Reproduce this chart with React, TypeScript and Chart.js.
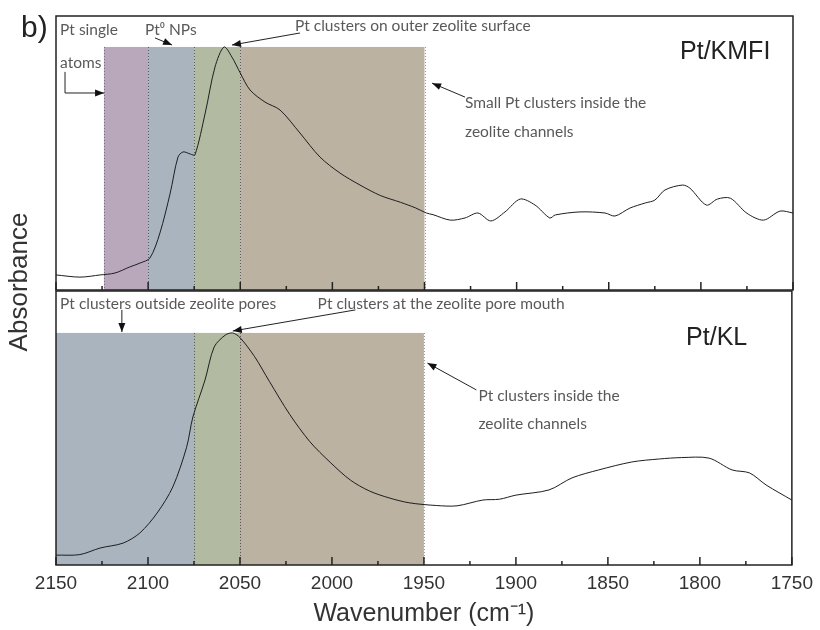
import React, { useEffect, useRef } from "react";
import { Chart, registerables } from "chart.js";

Chart.register(...registerables);

// ---------- data (wavenumber in cm-1, absorbance in arbitrary units 0-100) ----------
const topWavenumber = [
  2150, 2137, 2126, 2118, 2110, 2104.5, 2099, 2093.6, 2088, 2083.8, 2081, 2077, 2074.6, 2069, 2063.7,
  2058.8, 2054.5, 2050, 2044.7, 2036.6, 2028.4, 2017.6, 2006.7, 1995.9, 1985, 1974, 1963, 1955, 1949,
  1945.4, 1936, 1928, 1921, 1914, 1906.3, 1898, 1890, 1882, 1879, 1865.6, 1852, 1846.6, 1838.5, 1830,
  1825, 1819.5, 1810, 1806, 1797, 1791, 1784, 1775, 1766, 1757, 1750,
];
const topAbsorbance = [
  5.5, 4.7, 5.5, 6.2, 8.4, 9.8, 11.7, 20.8, 35.4, 48.5, 50.4, 49.6, 49.3, 64.6, 81.4,
  88.7, 85, 79.2, 73, 68.6, 65.7, 57.3, 48.5, 42.7, 38.3, 34.5, 32, 30, 28.1,
  27.5, 25.5, 26.3, 28.1, 25.2, 28.5, 33.2, 31, 26.3, 27.4, 28.5, 28.1, 27, 29.9, 31.8,
  32.8, 36.5, 38.3, 37.2, 31, 33.2, 33.5, 28, 25.5, 28.8, 28.1,
];

const bottomWavenumber = [
  2150, 2137, 2126, 2113.5, 2104.4, 2095, 2086.5, 2079, 2075.6, 2069, 2064, 2058, 2054, 2050, 2042,
  2034, 2023, 2012, 2001, 1990, 1979.6, 1969, 1958, 1943, 1932, 1918, 1909, 1900, 1882, 1869.5,
  1855, 1837, 1822, 1810, 1795, 1782.5, 1773, 1764, 1750,
];
const bottomAbsorbance = [
  3.6, 3.8, 6.2, 8, 11.7, 19, 28.5, 43, 54, 67.5, 79.6, 83.9, 84.7, 83, 76,
  67, 55, 45, 37.5, 31, 27, 24.5, 22.7, 21.7, 21.6, 23.7, 24, 25.5, 27.4, 31.8,
  34.7, 37.6, 38.7, 39.2, 39, 34.7, 33.6, 29.2, 23.7,
];

// shaded regions (wavenumber limits)
const topBandStart = [2124, 2100, 2075, 2050];
const topBandEnd = [2100, 2075, 2050, 1950];
const topBandColors = ["#b9a8bc", "#a9b4bf", "#b2bba2", "#bbb2a2"];
const topBandTop = 88.7;

const bottomBandStart = [2150, 2075, 2050];
const bottomBandEnd = [2075, 2050, 1950];
const bottomBandColors = ["#a9b4bf", "#b2bba2", "#bbb2a2"];
const bottomBandTop = 84.7;

const majorTicks = [2150, 2100, 2050, 2000, 1950, 1900, 1850, 1800, 1750];
const minorTicks = [2125, 2075, 2025, 1975, 1925, 1875, 1825, 1775];

// annotations: [text, wavenumber, absorbance]
const topLabels: [string, number, number][] = [
  ["Pt single", 2147.8, 94.9],
  ["atoms", 2147.8, 82.8],
  ["Pt\u2070 NPs", 2101.7, 94.9],
  ["Pt clusters on outer zeolite surface", 2020.3, 96.4],
  ["Small Pt clusters inside the", 1928, 68.2],
  ["zeolite channels", 1928, 57.7],
];
const topArrows: number[][][] = [
  [[2145.1, 79.6], [2145.1, 71.9], [2123.9, 71.9]],
  [[2096.3, 92], [2087, 89.4]],
  [[2017.6, 93.8], [2054.5, 89.4]],
  [[1928, 70.4], [1945.9, 75.5]],
];
const topSample = ["Pt/KMFI", 1811.3, 86.9] as const;

const bottomLabels: [string, number, number][] = [
  ["Pt clusters outside zeolite pores", 2147.8, 95.3],
  ["Pt clusters at the zeolite pore mouth", 2007.8, 95.3],
  ["Pt clusters inside the", 1920.4, 61.7],
  ["zeolite channels", 1920.4, 51.5],
];
const bottomArrows: number[][][] = [
  [[2114.2, 93.1], [2114.2, 85]],
  [[1987.2, 93.1], [2053.9, 85.4]],
  [[1921.5, 63.9], [1948.1, 73.7]],
];
const bottomSample = ["Pt/KL", 1807.5, 82.8] as const;

const SANS = '"Liberation Sans", Arial, sans-serif';
const NOTE_FONT = '15.5px Lato, "Open Sans", sans-serif';

function drawArrow(ctx: CanvasRenderingContext2D, pts: number[][]) {
  ctx.save();
  ctx.strokeStyle = "#222";
  ctx.fillStyle = "#111";
  ctx.lineWidth = 1;
  ctx.beginPath();
  ctx.moveTo(pts[0][0], pts[0][1]);
  for (let i = 1; i < pts.length; i++) ctx.lineTo(pts[i][0], pts[i][1]);
  ctx.stroke();
  const [x1, y1] = pts[pts.length - 2];
  const [x2, y2] = pts[pts.length - 1];
  const a = Math.atan2(y2 - y1, x2 - x1);
  const L = 9;
  const W = 3.5;
  ctx.beginPath();
  ctx.moveTo(x2, y2);
  ctx.lineTo(x2 - L * Math.cos(a) + W * Math.sin(a), y2 - L * Math.sin(a) - W * Math.cos(a));
  ctx.lineTo(x2 - L * Math.cos(a) - W * Math.sin(a), y2 - L * Math.sin(a) + W * Math.cos(a));
  ctx.closePath();
  ctx.fill();
  ctx.restore();
}

function makePanelPlugin(
  id: string,
  bandStart: number[],
  bandEnd: number[],
  bandColors: string[],
  bandTop: number,
  labels: [string, number, number][],
  arrows: number[][][],
  sample: readonly [string, number, number],
  extra?: (ctx: CanvasRenderingContext2D) => void
) {
  return {
    id,
    beforeDatasetsDraw(chart: any) {
      const { ctx, chartArea } = chart;
      const xs = chart.scales.x;
      const ys = chart.scales.y;
      const yTop = ys.getPixelForValue(bandTop);
      ctx.save();
      for (let i = 0; i < bandStart.length; i++) {
        const a = xs.getPixelForValue(bandStart[i]);
        const b = xs.getPixelForValue(bandEnd[i]);
        ctx.fillStyle = bandColors[i];
        ctx.fillRect(Math.min(a, b), yTop, Math.abs(b - a), chartArea.bottom - yTop);
      }
      ctx.setLineDash([1, 2]);
      ctx.strokeStyle = "rgba(60,60,70,0.55)";
      ctx.lineWidth = 1;
      for (let i = 0; i < bandStart.length; i++) {
        for (const v of [bandStart[i], bandEnd[i]]) {
          const p = Math.round(xs.getPixelForValue(v)) + 0.5;
          if (p <= chartArea.left + 1) continue;
          ctx.beginPath();
          ctx.moveTo(p, yTop);
          ctx.lineTo(p, chartArea.bottom);
          ctx.stroke();
        }
      }
      ctx.restore();
    },
    afterDraw(chart: any) {
      const { ctx, chartArea } = chart;
      const xs = chart.scales.x;
      const ys = chart.scales.y;
      ctx.save();
      // ticks pointing inward
      ctx.strokeStyle = "#222";
      ctx.lineWidth = 1.5;
      for (const v of majorTicks) {
        const p = xs.getPixelForValue(v);
        ctx.beginPath();
        ctx.moveTo(p, chartArea.bottom);
        ctx.lineTo(p, chartArea.bottom - 8);
        ctx.stroke();
      }
      for (const v of minorTicks) {
        const p = xs.getPixelForValue(v);
        ctx.beginPath();
        ctx.moveTo(p, chartArea.bottom);
        ctx.lineTo(p, chartArea.bottom - 4);
        ctx.stroke();
      }
      // frame
      ctx.lineWidth = 1.5;
      ctx.strokeRect(chartArea.left, chartArea.top, chartArea.right - chartArea.left, chartArea.bottom - chartArea.top);
      // notes
      ctx.font = NOTE_FONT;
      ctx.fillStyle = "#595959";
      ctx.textBaseline = "middle";
      ctx.textAlign = "left";
      for (const [t, x, y] of labels) {
        ctx.fillText(t, xs.getPixelForValue(x), ys.getPixelForValue(y));
      }
      for (const arr of arrows) {
        drawArrow(ctx, arr.map(([x, y]) => [xs.getPixelForValue(x), ys.getPixelForValue(y)]));
      }
      ctx.font = `25px ${SANS}`;
      ctx.fillStyle = "#222";
      ctx.fillText(sample[0], xs.getPixelForValue(sample[1]), ys.getPixelForValue(sample[2]));
      if (extra) extra(ctx);
      ctx.restore();
    },
  };
}

function toPoints(xs: number[], ys: number[]) {
  return xs.map((x, i) => ({ x, y: ys[i] }));
}

function baseConfig(points: { x: number; y: number }[], padding: any, showX: boolean, plugin: any): any {
  return {
    type: "line",
    data: {
      datasets: [
        {
          data: points,
          borderColor: "#1e1e1e",
          borderWidth: 1,
          pointRadius: 0,
          tension: 0.3,
          fill: false,
        },
      ],
    },
    options: {
      animation: false,
      responsive: false,
      devicePixelRatio: 1,
      events: [],
      layout: { padding },
      plugins: { legend: { display: false }, tooltip: { enabled: false } },
      scales: {
        x: {
          type: "linear",
          reverse: true,
          min: 1750,
          max: 2150,
          display: showX,
          grid: { display: false, drawTicks: false },
          border: { display: false },
          ticks: {
            stepSize: 50,
            padding: 7,
            color: "#333",
            font: { family: SANS, size: 19 },
            callback: (v: number) => String(v),
            maxRotation: 0,
          },
          title: {
            display: showX,
            text: "Wavenumber (cm\u207B\u00B9)",
            color: "#333",
            font: { family: SANS, size: 25 },
            padding: { top: 0, bottom: 1 },
          },
          afterFit: (scale: any) => {
            if (showX) scale.height = 65;
          },
        },
        y: { display: false, min: 0, max: 100 },
      },
    },
    plugins: [plugin],
  };
}

export default function App() {
  const topRef = useRef<HTMLCanvasElement>(null);
  const botRef = useRef<HTMLCanvasElement>(null);

  useEffect(() => {
    const topPlugin = makePanelPlugin(
      "topPanel",
      topBandStart,
      topBandEnd,
      topBandColors,
      topBandTop,
      topLabels,
      topArrows,
      topSample,
      (ctx) => {
        ctx.fillStyle = "#222";
        ctx.textAlign = "left";
        ctx.textBaseline = "middle";
        ctx.font = `30px ${SANS}`;
        ctx.fillText("b)", 21, 29);
      }
    );
    const bottomPlugin = makePanelPlugin(
      "bottomPanel",
      bottomBandStart,
      bottomBandEnd,
      bottomBandColors,
      bottomBandTop,
      bottomLabels,
      bottomArrows,
      bottomSample,
      (ctx) => {
        ctx.save();
        ctx.translate(20, 282);
        ctx.rotate(-Math.PI / 2);
        ctx.fillStyle = "#333";
        ctx.textAlign = "center";
        ctx.textBaseline = "middle";
        ctx.font = `26px ${SANS}`;
        ctx.fillText("Absorbance", 0, 0);
        ctx.restore();
      }
    );
    const c1 = new Chart(
      topRef.current!,
      baseConfig(toPoints(topWavenumber, topAbsorbance), { left: 56, right: 27, top: 16, bottom: 340 }, false, topPlugin)
    );
    const c2 = new Chart(
      botRef.current!,
      baseConfig(toPoints(bottomWavenumber, bottomAbsorbance), { left: 56, right: 27, top: 291, bottom: 0 }, true, bottomPlugin)
    );
    return () => {
      c1.destroy();
      c2.destroy();
    };
  }, []);

  return (
    <div style={{ position: "absolute", left: 0, top: 0, width: 820, height: 630, background: "#fff", overflow: "hidden" }}>
      <canvas ref={botRef} width={820} height={630} style={{ position: "absolute", left: 0, top: 0 }} />
      <canvas ref={topRef} width={820} height={630} style={{ position: "absolute", left: 0, top: 0 }} />
    </div>
  );
}
